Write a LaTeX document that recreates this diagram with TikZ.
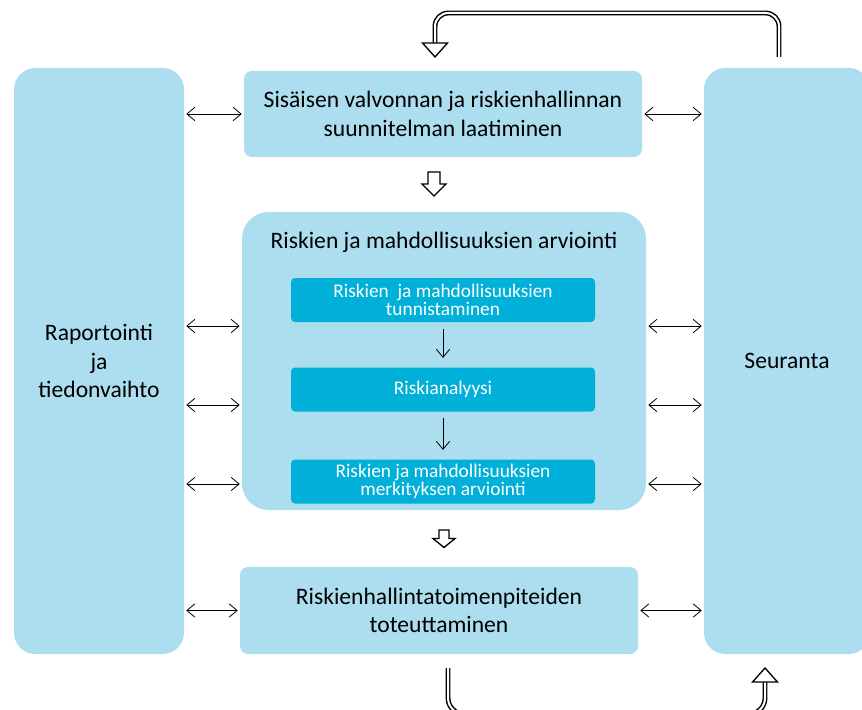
\documentclass[tikz,border=0pt]{standalone}
\usepackage{fontspec}
\setmainfont{Carlito}
\usetikzlibrary{arrows.meta}
\definecolor{paleblue}{RGB}{172,222,239}
\definecolor{deepblue}{RGB}{0,176,216}

\begin{document}
\begin{tikzpicture}[x=0.75pt, y=-0.75pt,
    panel/.style={fill=paleblue, align=center, font=\fontsize{17.7}{21.4}\selectfont},
    substep/.style={fill=deepblue, text=white, rounded corners=3pt, minimum width=228pt, minimum height=33pt, align=center, font=\fontsize{14.5}{13}\selectfont},
    link/.style={{Straight Barb[length=6pt,width=10pt]}-{Straight Barb[length=6pt,width=10pt]}, line width=0.6pt, shorten >=1.5pt, shorten <=1.5pt},
    flow/.style={-{Straight Barb[length=6pt,width=10pt]}, line width=0.6pt},
    hollow/.style={draw, fill=white, line width=1pt, line join=miter},
    loopline/.style={draw, double=white, double distance=1.5pt, line width=1.1pt, rounded corners=10pt}
]
\useasboundingbox (0,0) rectangle (862,709);
\clip (0,0) rectangle (862,709);

% side panels
\node[panel, rounded corners=16pt, minimum width=127.5pt, minimum height=439.5pt] (report) at (99,361) {Raportointi\\ja\\tiedonvaihto};
\node[panel, rounded corners=16pt, minimum width=124.5pt, minimum height=439.5pt] (seur) at (787,361) {Seuranta};

% main steps
\node[panel, rounded corners=6pt, minimum width=298.5pt, minimum height=64.5pt] (plan) at (443,114) {Sisäisen valvonnan ja riskienhallinnan\\suunnitelman laatiminen};
\node[panel, rounded corners=20pt, minimum width=303pt, minimum height=223.5pt] (assess) at (444,361) {};
\node[panel, fill=none] (assesstitle) at (444,242) {Riskien ja mahdollisuuksien arviointi};
\node[panel, rounded corners=6pt, minimum width=298.5pt, minimum height=65.25pt] (act) at (439,610.5) {Riskienhallintatoimenpiteiden\\toteuttaminen};

% sub steps
\node[substep] (ident) at (443,300) {Riskien\ \ ja mahdollisuuksien\\tunnistaminen};
\node[substep] (analysis) at (443,389.5) {Riskianalyysi};
\node[substep] (signif) at (443,481.5) {Riskien ja mahdollisuuksien\\merkityksen arviointi};
\draw[flow] ([yshift=-5pt]ident.south) -- ([yshift=7pt]analysis.north);
\draw[flow] ([yshift=-5pt]analysis.south) -- ([yshift=7pt]signif.north);

% block arrows between steps
\coordinate (down1) at (434,184);
\coordinate (down2) at (444,538.5);
\draw[hollow] (down1) ++(-6,-12) -- ++(12,0) -- ++(0,12) -- ++(6,0) -- ++(-12,12) -- ++(-12,-12) -- ++(6,0) -- cycle;
\draw[hollow] (down2) ++(-5,-8.5) -- ++(10,0) -- ++(0,8.5) -- ++(6,0) -- ++(-11,9) -- ++(-11,-9) -- ++(6,0) -- cycle;

% two-way links
\draw[link] (report.east |- plan) -- (plan.west);
\draw[link] (plan.east) -- (seur.west |- plan);
\draw[link] (report.east |- act) -- (act.west);
\draw[link] (act.east) -- (seur.west |- act);
\foreach \yy in {326,405,484} {
  \path (0,\yy) coordinate (h);
  \draw[link] (report.east |- h) -- (assess.west |- h);
  \draw[link] (assess.east |- h) -- (seur.west |- h);
}

% feedback loops
\coordinate (fbout) at (779,57);
\coordinate (fbin) at (435,43);
\draw[loopline] (fbout) -- (779,13) -- (435,13) -- (fbin);
\draw[hollow] (fbin) ++(-12.5,0) -- ++(25,0) -- ++(-12.5,14) -- cycle;

\coordinate (lowout) at (448,668);
\coordinate (lowin) at (765,682);
\draw[loopline, rounded corners=12pt] (lowout) -- (448,714) -- (765,714) -- (lowin);
\draw[hollow] (lowin) ++(-12.5,0) -- ++(25,0) -- ++(-12.5,-14) -- cycle;
\end{tikzpicture}
\end{document}
